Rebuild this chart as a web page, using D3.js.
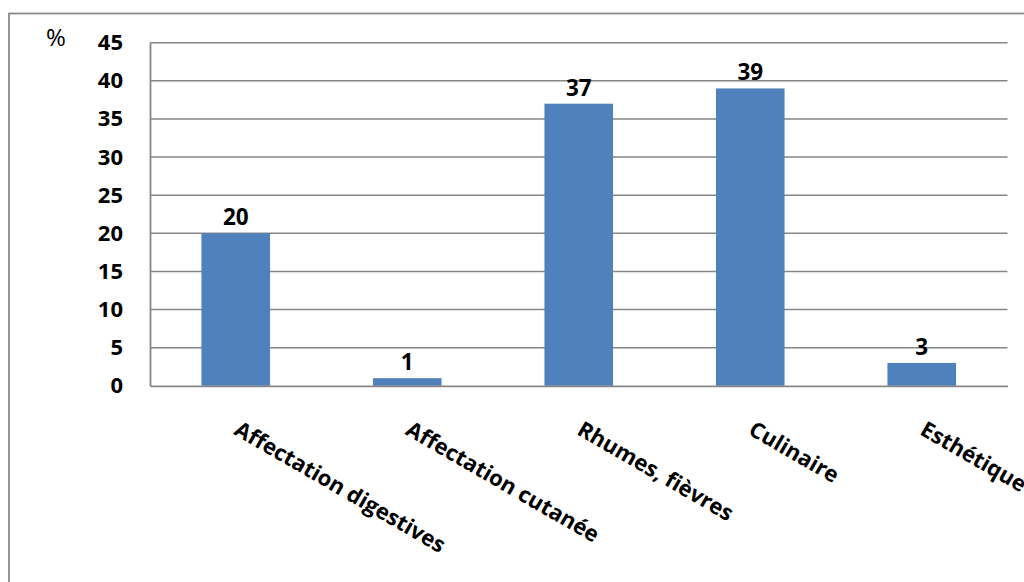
<!DOCTYPE html>
<html><head><meta charset="utf-8">
<script src="https://cdn.jsdelivr.net/npm/d3@7"></script>
<style>
html,body{margin:0;padding:0;background:#fff;}
svg text{font-family:"Open Sans",sans-serif;}
</style></head>
<body>
<svg id="chart" width="1024" height="582"></svg>
<script>
const categories = ["Affectation digestives","Affectation cutanée","Rhumes, fièvres","Culinaire","Esthétique"];
const values = [20, 1, 37, 39, 3];
const yTicks = [0,5,10,15,20,25,30,35,40,45];
const yUnit = "%";

const svg = d3.select("#chart");
const m = {left:150, right:1007.5, top:42.7, bottom:385.8};

// outer frame
svg.append("rect").attr("x",9).attr("y",13.5).attr("width",1200).attr("height",800)
  .attr("fill","none").attr("stroke","#898989").attr("stroke-width",1.8);

const x = d3.scaleBand().domain(categories).range([m.left,m.right]).paddingInner(0.6).paddingOuter(0.3);
const y = d3.scaleLinear().domain([0,45]).range([m.bottom,m.top]);

// gridlines
svg.append("g").selectAll("line").data(yTicks.filter(d=>d>0)).join("line")
  .attr("x1",m.left).attr("x2",m.right).attr("y1",d=>y(d)).attr("y2",d=>y(d))
  .attr("stroke","#868686").attr("stroke-width",1.6);

// bars
svg.append("g").selectAll("rect").data(values).join("rect")
  .attr("x",(d,i)=>x(categories[i])).attr("width",x.bandwidth())
  .attr("y",d=>y(d)).attr("height",d=>y(0)-y(d)).attr("fill","#4F81BD");

// axes
const yAxis = d3.axisLeft(y).tickValues(yTicks).tickSize(0).tickPadding(27);
const gy = svg.append("g").attr("transform",`translate(${m.left},0)`).call(yAxis);
gy.select(".domain").attr("stroke","#868686").attr("stroke-width",1.8);
gy.selectAll("text").attr("font-family","Open Sans").attr("font-weight","bold")
  .attr("font-size",22).attr("fill","#000");

const xAxis = d3.axisBottom(x).tickSize(0).tickFormat("");
const gx = svg.append("g").attr("transform",`translate(0,${m.bottom})`).call(xAxis);
gx.select(".domain").attr("stroke","#868686").attr("stroke-width",1.8);

// category labels
svg.append("g").selectAll("text").data(categories).join("text")
  .attr("transform",d=>`translate(${x(d)+x.bandwidth()/2-3},${m.bottom+48}) rotate(30)`)
  .attr("text-anchor","start").attr("font-weight","bold").attr("font-size",22)
  .attr("fill","#000").text(d=>d);

// value labels
svg.append("g").selectAll("text").data(values).join("text")
  .attr("x",(d,i)=>x(categories[i])+x.bandwidth()/2).attr("y",d=>y(d)-8)
  .attr("text-anchor","middle").attr("font-weight","bold").attr("font-size",22.5)
  .attr("fill","#000").text(d=>d);

// unit label
svg.append("text").attr("x",56).attr("y",45.5).attr("text-anchor","middle")
  .attr("font-size",24).attr("fill","#000").text(yUnit);
</script>
</body></html>
